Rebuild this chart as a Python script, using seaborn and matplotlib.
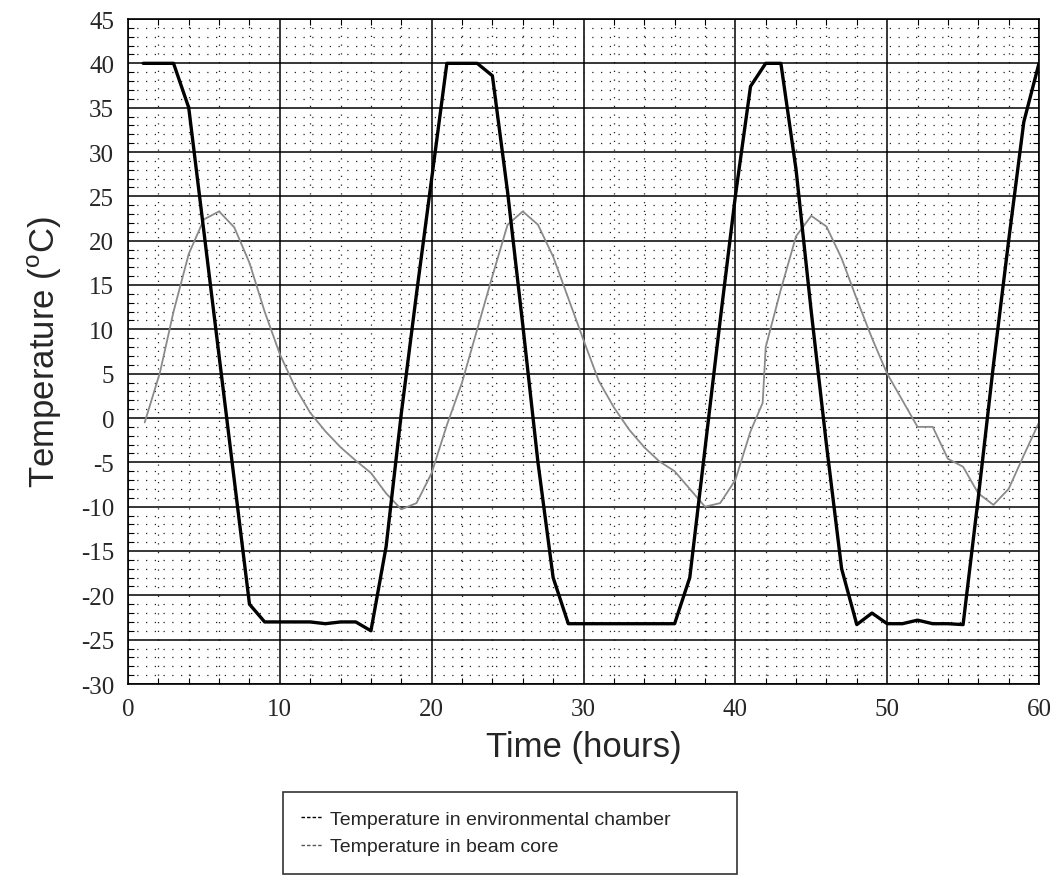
import numpy as np
import pandas as pd
import matplotlib
matplotlib.use("Agg")
import matplotlib.pyplot as plt
from matplotlib.lines import Line2D
from matplotlib.ticker import MultipleLocator
import seaborn as sns

# ---- data ----
chamber_time = [1, 2, 3, 4, 5, 6, 7, 8, 9, 10, 11, 12, 13, 14, 15, 16, 17, 18, 19, 20,
                21, 22, 23, 24, 25, 26, 27, 28, 29, 30, 31, 32, 33, 34, 35, 36, 37, 38, 39, 40,
                41, 42, 43, 44, 45, 46, 47, 48, 49, 50, 51, 52, 53, 54, 55, 56, 57, 58, 59, 60]
chamber_temp = [40, 40, 40, 35, 21, 7, -7, -21, -23, -23, -23, -23, -23.2, -23, -23, -24, -14.5, 0.5, 14, 27,
                40, 40, 40, 38.6, 25.5, 10.5, -5, -18, -23.2, -23.2, -23.2, -23.2, -23.2, -23.2, -23.2, -23.2, -18, -3.5, 11, 25,
                37.4, 40, 40, 28, 12, -3, -17, -23.3, -22, -23.2, -23.2, -22.8, -23.2, -23.2, -23.3, -9, 6, 20, 33.4, 40]

core_time = [1.1, 2.1, 3, 4, 5, 6, 7, 8, 9, 10, 11, 12, 13, 14, 15, 16, 17, 18, 19, 20,
             21, 22, 23, 24, 25, 26, 27, 28, 29, 30, 31, 32, 33, 34, 35, 36, 37, 38, 39, 40,
             41, 41.8, 42, 43, 44, 45, 46, 47, 48, 49, 50, 51, 52, 53, 54, 55, 56, 57, 58, 59, 60]
core_temp = [-0.5, 5.1, 12, 18.5, 22.4, 23.3, 21.5, 17.5, 12, 7.2, 3.5, 0.6, -1.5, -3.3, -4.8, -6.2, -8.5, -10.3, -9.6, -6.2,
             -0.8, 4, 10, 16, 21.8, 23.3, 21.8, 18.2, 13.5, 8.8, 4.2, 1.2, -1.3, -3.3, -4.9, -6, -8, -10, -9.6, -7,
             -1.5, 1.7, 8, 14.5, 20.5, 22.8, 21.6, 18, 13.4, 9, 5, 2, -1, -1, -4.6, -5.5, -8.5, -9.8, -8, -4.2, -0.5]

x_ticks = [0, 10, 20, 30, 40, 50, 60]
y_ticks = list(range(-30, 50, 5))
legend_labels = ["Temperature in environmental chamber", "Temperature in beam core"]

chamber_df = pd.DataFrame({"Time": chamber_time, "Temp": chamber_temp})
core_df = pd.DataFrame({"Time": core_time, "Temp": core_temp})

sns.set_style("white")
plt.rcParams["font.family"] = ["Liberation Sans", "DejaVu Sans"]
plt.rcParams["mathtext.fontset"] = "custom"
plt.rcParams["mathtext.rm"] = "Liberation Sans"
plt.rcParams["axes.unicode_minus"] = False

fig = plt.figure(figsize=(10.56, 8.78), dpi=100)
ax = fig.add_axes([128 / 1056, 1 - 685 / 878, (1039 - 128) / 1056, (685 - 20) / 878])

ax.set_xlim(0, 60)
ax.set_ylim(-30, 45)
ax.set_xticks(x_ticks)
ax.set_yticks(y_ticks)
ax.xaxis.set_minor_locator(MultipleLocator(2))
ax.yaxis.set_minor_locator(MultipleLocator(1))

ax.grid(True, which="minor", color="#222222", linestyle=(0, (1, 6)), linewidth=0.9)
ax.grid(True, which="major", color="black", linestyle="-", linewidth=1.1)
ax.set_axisbelow(True)

sns.lineplot(data=core_df, x="Time", y="Temp", ax=ax, color="#8a8a8a", linewidth=1.3,
             estimator=None, sort=False)
sns.lineplot(data=chamber_df, x="Time", y="Temp", ax=ax, color="black", linewidth=2.4,
             estimator=None, sort=False)

for sp in ax.spines.values():
    sp.set_color("black")
    sp.set_linewidth(1.2)

ax.tick_params(which="major", length=0, pad=10)
ax.tick_params(which="minor", direction="in", length=4, width=0.8, top=True, bottom=True,
               left=True, right=True, color="black")
for lab in ax.get_xticklabels() + ax.get_yticklabels():
    lab.set_fontfamily("Liberation Serif")
    lab.set_fontsize(18)

ax.set_xlabel("Time (hours)", fontsize=25, labelpad=7)
ax.set_ylabel("Temperature ($^{\\mathrm{o}}$C)", fontsize=25, labelpad=12)

handles = [Line2D([], [], color="black", linestyle=(0, (2.5, 1.5)), linewidth=1.0),
           Line2D([], [], color="#555555", linestyle=(0, (2.5, 1.5)), linewidth=1.0)]
leg = fig.legend(handles, legend_labels, loc="upper left",
                 bbox_to_anchor=(283 / 1056, 1 - 873 / 878, (737 - 283) / 1056, 80 / 878),
                 mode="expand", fontsize=14, frameon=True, fancybox=False,
                 edgecolor="black", handlelength=1.1, handletextpad=0.35,
                 borderpad=0.95, labelspacing=0.5, borderaxespad=0)
leg.get_frame().set_linewidth(1.2)

fig.savefig("out.png", dpi=100, facecolor="white")
